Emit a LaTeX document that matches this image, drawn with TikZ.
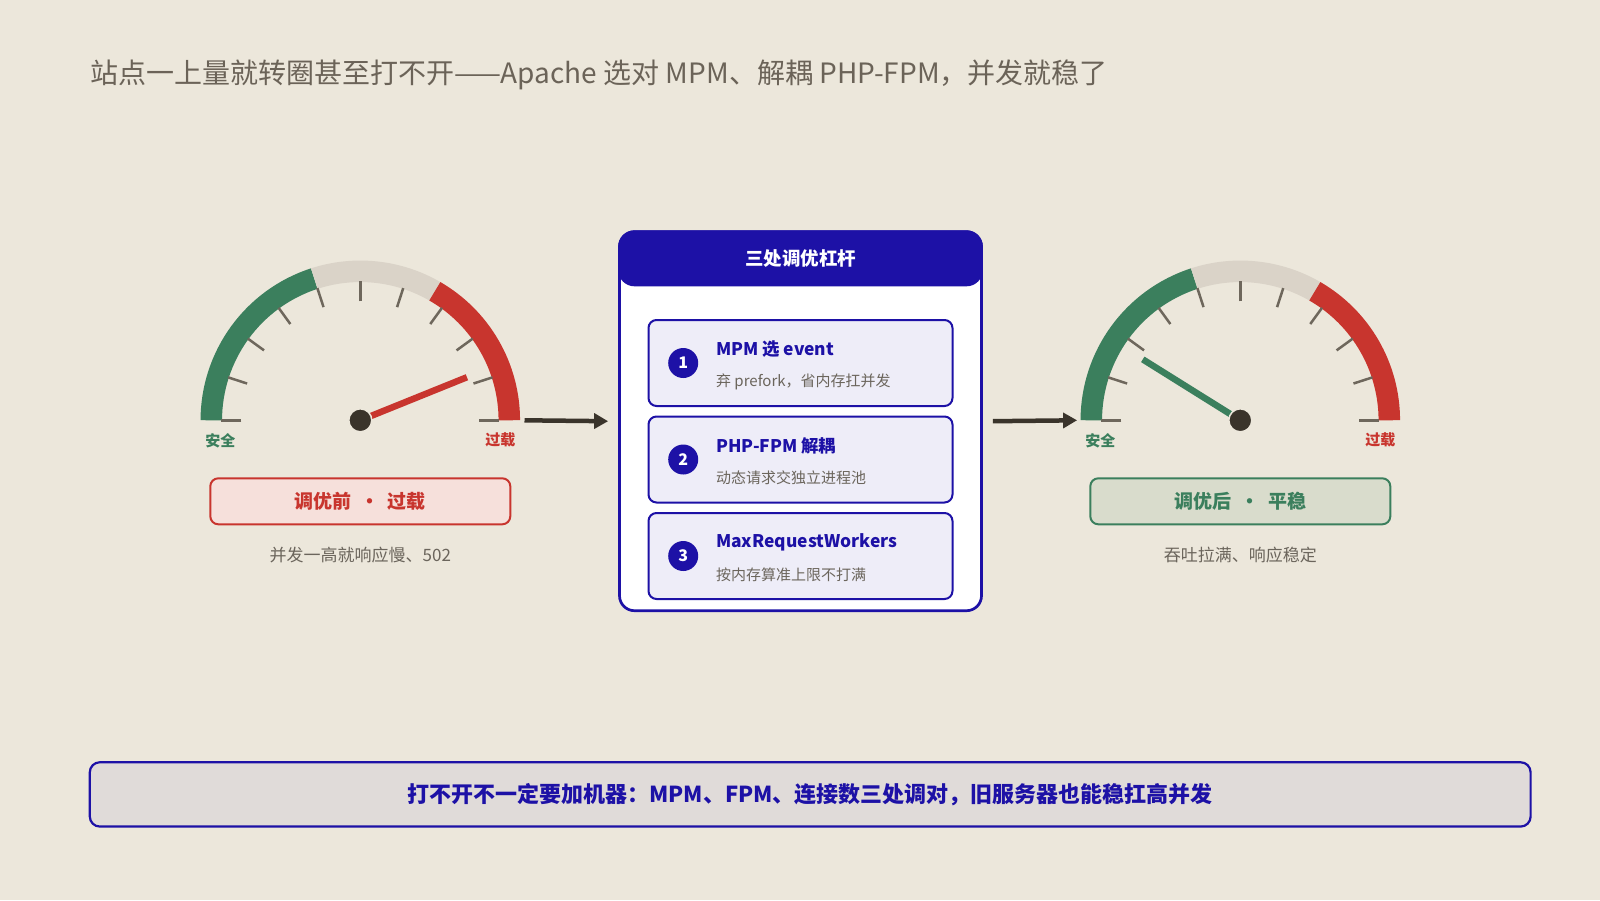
\documentclass[tikz,border=0pt]{standalone}
\usepackage{fontspec}
\setmainfont{Noto Sans CJK SC}
\usepackage{tikz}
\usetikzlibrary{positioning,arrows.meta,calc}

\definecolor{bgbeige}{HTML}{ECE7DB}
\definecolor{inkdark}{HTML}{3A342B}
\definecolor{okgreen}{HTML}{3B7F5D}
\definecolor{hotred}{HTML}{C8352E}
\definecolor{midgray}{HTML}{DAD3C8}
\definecolor{tickgray}{HTML}{6E675C}
\definecolor{leverblue}{HTML}{1D11A6}
\definecolor{textgray}{HTML}{6B655C}
\definecolor{titlegray}{HTML}{6B6358}
\definecolor{redwash}{HTML}{F6E0DB}
\definecolor{greenwash}{HTML}{D9DCCC}
\definecolor{leverfill}{HTML}{EEEDF8}
\definecolor{bannerfill}{HTML}{E0DBD9}

\newcommand{\fsz}[1]{\fontsize{#1}{#1}\selectfont}

% gauge: #1 centre, #2 needle angle, #3 needle colour
\newcommand{\speedo}[3]{%
  \begin{scope}[shift={#1}]
    \draw[band, okgreen] (180:149pt) arc[start angle=180, end angle=108, radius=149pt];
    \draw[band, midgray] (108:149pt) arc[start angle=108, end angle=60, radius=149pt];
    \draw[band, hotred] (60:149pt) arc[start angle=60, end angle=0, radius=149pt];
    \foreach \a in {0,18,...,180}
      \draw[gtick] (\a:119pt) -- (\a:139pt);
    \draw[line width=6.5pt, #3] (0,0) -- (#2:115pt);
    \filldraw[fill=inkdark, draw=bgbeige, line width=1.5pt] (0,0) circle (11.5pt);
    \node[scalelbl, text=okgreen] at (-140pt,-20pt) {安全};
    \node[scalelbl, text=hotred] at (140pt,-20pt) {过载};
  \end{scope}}

\begin{document}
\begin{tikzpicture}[x=1pt, y=1pt,
  band/.style={line width=21.5pt},
  gtick/.style={tickgray, line width=2.5pt},
  scalelbl/.style={font=\fsz{15}\bfseries},
  statebox/.style={line width=2pt, rounded corners=8pt, minimum width=300pt, minimum height=46pt, font=\fsz{19}\bfseries},
  note/.style={text=textgray, font=\fsz{17}},
  panel/.style={draw=leverblue, line width=2.7pt, fill=white, rounded corners=15pt, minimum width=362pt, minimum height=379pt},
  header/.style={draw=leverblue, line width=2.7pt, fill=leverblue, rounded corners=15pt, minimum width=362pt, minimum height=53.3pt, text=white, font=\fsz{18.5}\bfseries},
  lever/.style={draw=leverblue, line width=2pt, fill=leverfill, rounded corners=8pt, minimum width=304pt, minimum height=86pt},
  badge/.style={circle, fill=leverblue, text=white, minimum size=30pt, inner sep=0pt, font=\fsz{16}\bfseries},
  lvtitle/.style={anchor=west, inner sep=0pt, text=leverblue, font=\fsz{17.4}\bfseries},
  lvnote/.style={anchor=west, inner sep=0pt, text=textgray, font=\fsz{15}},
  banner/.style={draw=leverblue, line width=2.2pt, fill=bannerfill, rounded corners=10pt, minimum width=1440.8pt, minimum height=64.3pt, text=leverblue, font=\fsz{22}\bfseries},
  flow/.style={-{Triangle[length=14pt,width=15pt]}, line width=4.5pt, inkdark}]

  \useasboundingbox (0,0) rectangle (1600,-900);
  \fill[bgbeige] (0,0) rectangle (1600,-900);

  \node[anchor=west, inner sep=0pt, text=titlegray, font=\fsz{28}] (title) at (89.8,-74.5)
    {站点一上量就转圈甚至打不开——Apache 选对 MPM、解耦 PHP-FPM，并发就稳了};

  % before
  \node[circle, minimum size=320pt, inner sep=0pt] (lgauge) at (360.3,-420.3) {};
  \speedo{(lgauge.center)}{22}{hotred}
  \node[statebox, draw=hotred, fill=redwash, text=hotred] (before) at (360.3,-501.3) {调优前 \ · \ 过载};
  \node[note] (beforenote) at (360.3,-555) {并发一高就响应慢、502};

  % levers
  \node[panel] (levers) at (800.5,-421.2) {};
  \node[header] (head) at (800.5,-258.3) {三处调优杠杆};
  \node[lever] (lv1) at (800.5,-363) {};
  \node[lever, below=8.5pt of lv1] (lv2) {};
  \node[lever, below=8.5pt of lv2] (lv3) {};
  \node[badge] (b1) at ([xshift=35.7pt]lv1.west) {1};
  \node[badge] (b2) at ([xshift=35.7pt]lv2.west) {2};
  \node[badge] (b3) at ([xshift=35.7pt]lv3.west) {3};
  \node[lvtitle] (t1) at ([xshift=68.4pt,yshift=14pt]lv1.west) {MPM 选 event};
  \node[lvnote] (n1) at ([xshift=68.4pt,yshift=-18.7pt]lv1.west) {弃 prefork，省内存扛并发};
  \node[lvtitle] (t2) at ([xshift=68.4pt,yshift=14pt]lv2.west) {PHP-FPM 解耦};
  \node[lvnote] (n2) at ([xshift=68.4pt,yshift=-18.7pt]lv2.west) {动态请求交独立进程池};
  \node[lvtitle] (t3) at ([xshift=68.4pt,yshift=14pt]lv3.west) {MaxRequestWorkers};
  \node[lvnote] (n3) at ([xshift=68.4pt,yshift=-18.7pt]lv3.west) {按内存算准上限不打满};

  % after
  \node[circle, minimum size=320pt, inner sep=0pt] (rgauge) at (1240.3,-420.3) {};
  \speedo{(rgauge.center)}{148}{okgreen}
  \node[statebox, draw=okgreen, fill=greenwash, text=okgreen] (after) at (1240.3,-501.3) {调优后 \ · \ 平稳};
  \node[note] (afternote) at (1240.3,-555) {吞吐拉满、响应稳定};

  \draw[flow] ([xshift=4pt]lgauge.east) -- ([xshift=-10pt]levers.west);
  \draw[flow] ([xshift=10pt]levers.east) -- ([xshift=-3pt]rgauge.west);

  \node[banner] (takeaway) at (810.2,-794.4) {打不开不一定要加机器：MPM、FPM、连接数三处调对，旧服务器也能稳扛高并发};
\end{tikzpicture}
\end{document}
